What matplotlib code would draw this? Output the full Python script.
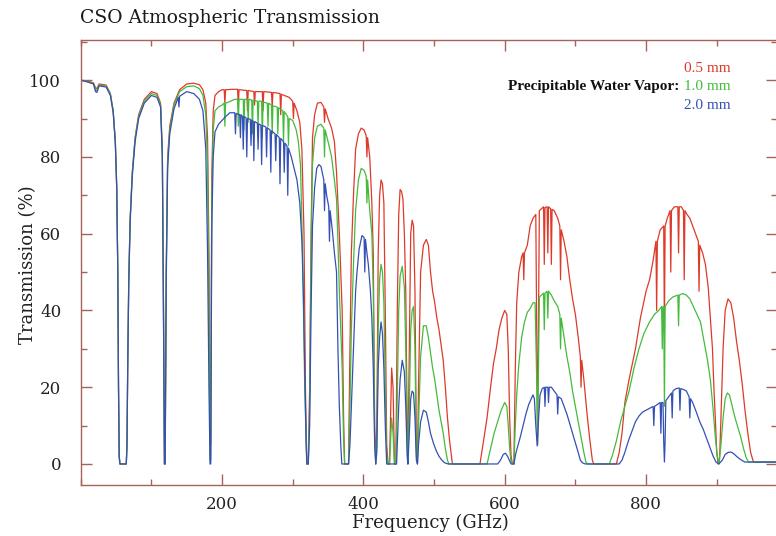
import matplotlib
matplotlib.use('Agg')
import matplotlib.pyplot as plt
from matplotlib.ticker import MultipleLocator, FixedLocator

# frequency in GHz, transmission in %
FREQ_05 = [
    0, 8, 18, 21, 23, 26, 36, 42, 46, 49, 51, 52.5, 53.5, 54.5, 55.5,
    64.5, 65.5, 66.5, 68, 70, 73, 77, 82, 90, 100, 108, 113, 115.5, 117, 118.5, 119.5,
    121, 123, 126, 132, 140, 150, 160, 168, 173, 177, 179.5, 181.5, 183, 184, 185.5, 187.5, 190, 195, 200,
    203, 204, 205, 215, 222, 223, 224, 235, 236, 237, 245, 246, 247, 257, 258, 259,
    270, 271, 272, 282, 283, 284, 295, 300, 301, 302, 306, 310, 313, 316, 318, 320, 322,
    324, 326, 328, 331, 335, 340, 344, 345, 346, 350, 355, 359, 362, 364, 366, 368, 370, 372, 373.5, 379,
    381, 383, 386, 389, 393, 397, 401, 404, 405, 406, 409, 412, 414, 416, 417.5,
    419, 421, 423, 425, 427, 429, 431, 433, 435, 437, 440, 442, 444, 446,
    448, 450, 452, 454, 456, 458, 460, 462, 463, 465, 467, 469, 471, 473, 475, 476.5,
    478, 481, 485, 489, 492, 495, 498, 501, 504, 507, 510, 513, 516, 519, 522, 526,
    565, 570, 575, 580, 584, 588, 592, 596, 600, 603, 605, 607, 609, 611, 613,
    615, 617, 620, 624, 626, 627, 628, 632, 636, 640, 644, 645.5, 646.5, 647.5, 649, 652,
    655, 656, 657, 660, 661, 662, 665, 666, 667, 670, 675, 678, 679, 680,
    684, 688, 692, 696, 700, 704, 707, 708, 709, 712, 716, 720, 724, 726, 758,
    762, 766, 770, 776, 785, 792, 800, 805, 810, 814, 815, 816, 820, 825, 826, 827,
    830, 834, 835, 836, 840, 845, 846, 847, 850, 853, 854, 855, 858, 862,
    866, 870, 874, 875, 876, 880, 884, 888, 891, 894, 896, 898, 900, 902,
    904, 906, 909, 912, 916, 920, 924, 928, 932, 936, 940, 944, 948, 952, 985,
]
TRANS_05 = [
    100, 99.8, 99.3, 98, 97.8, 99, 98.7, 96.5, 92, 84, 72, 50, 20, 2, 0,
    0, 5, 25, 48, 64, 76, 85, 91, 95, 97, 96.5, 94, 82, 45, 0, 0,
    50, 80, 88, 94, 97.5, 99, 99.2, 98.8, 97.5, 94, 85, 55, 5, 5, 75, 92, 96, 97, 97.5,
    97.5, 94, 97.5, 97.6, 97.6, 93, 97.5, 97.3, 92, 97.3, 97, 93.5, 97, 97, 92, 97,
    96.8, 93, 96.8, 96.5, 91, 96.3, 95.5, 94.5, 90, 94, 92, 89, 82, 60, 20, 0, 0,
    20, 60, 85, 91, 94, 94.2, 93, 89, 92.5, 90, 87.5, 84, 76, 68, 60, 50, 40, 12, 0, 0,
    30, 55, 70, 82, 86, 87.5, 87, 85.5, 80, 85, 80, 68, 55, 10, 0,
    10, 55, 70, 74, 73, 68, 40, 5, 0, 0, 25, 20, 0, 0,
    40, 65, 71.5, 71, 69, 60, 45, 10, 0, 30, 60, 63.5, 62, 45, 5, 0,
    20, 50, 57, 58.5, 57, 50, 45, 42, 38, 35, 31, 27, 20, 12, 6, 0,
    0, 6, 12, 20, 26, 30, 35, 38, 40, 39, 30, 12, 2, 0, 0,
    25, 42, 50, 54, 55, 48, 55, 57, 62, 64, 65, 30, 5, 30, 66, 66.5,
    67, 52, 66.8, 67, 55, 67, 66.5, 52, 66.3, 66, 64, 62, 48, 61,
    58, 54, 48, 43, 39, 33, 28, 20, 27, 22, 14, 7, 1, 0, 0,
    3, 8, 16, 22, 30, 38, 45, 48, 53, 58, 40, 58, 61, 62, 35, 62,
    64, 66, 50, 66, 67, 67, 55, 67, 67, 66, 48, 66, 65, 64,
    62, 60, 58, 45, 57, 55, 52, 46, 38, 30, 20, 12, 3, 0,
    1, 12, 30, 40, 43, 42, 38, 32, 27, 21, 14, 8, 3, 0.5, 0.5,
]

FREQ_10 = [
    0, 8, 18, 21, 23, 26, 36, 42, 46, 49, 51, 52.5, 53.5, 54.5, 55.5,
    64.5, 65.5, 66.5, 68, 70, 73, 77, 82, 90, 100, 108, 113, 115.5, 117, 118.5, 119.5,
    121, 123, 126, 132, 140, 150, 160, 168, 173, 177, 179.5, 181.5, 183, 184, 185.5, 187.5, 190, 195, 200,
    203, 204, 205, 212, 218, 222, 223, 224, 230, 231, 232, 236, 237, 238,
    242, 243, 244, 250, 251, 252, 256, 257, 258, 264, 265, 266,
    270, 271, 272, 278, 279, 280, 286, 287, 288, 293, 294, 295,
    300, 305, 308, 311, 314, 317, 320, 322,
    324, 326, 328, 331, 335, 340, 344, 345, 346, 350, 355, 359, 362, 364, 366, 368, 370, 372, 373.5, 379,
    381, 383, 386, 389, 393, 397, 401, 404, 405, 406, 409, 412, 414, 416, 417.5,
    419, 421, 423, 425, 427, 429, 431, 433, 435, 437, 440, 442, 444, 446,
    448, 450, 452, 455, 458, 460, 462, 463, 465, 467, 469, 471, 473, 475, 476.5,
    478, 481, 485, 489, 492, 495, 498, 501, 504, 507, 510, 513, 516, 519, 521, 575,
    580, 585, 590, 595, 600, 603, 605, 607, 609, 613,
    615, 617, 620, 624, 628, 632, 636, 640, 643, 645.5, 646.5, 647.5, 649, 652,
    655, 656, 657, 660, 661, 662, 666, 670, 675, 678, 679, 680,
    684, 688, 692, 696, 700, 704, 708, 712, 715, 717, 748,
    752, 758, 764, 770, 776, 783, 790, 797, 805, 812, 818,
    822, 823, 824, 825, 826, 827, 832, 838, 845, 846, 847, 852,
    857, 862, 867, 872, 877, 882, 887, 891, 895, 898, 901, 903,
    906, 909, 912, 915, 918, 922, 926, 930, 934, 938, 942, 945, 985,
]
TRANS_10 = [
    100, 99.7, 99.2, 97.5, 97.3, 98.7, 98.5, 96.3, 91.8, 84, 72, 50, 20, 2, 0,
    0, 5, 25, 48, 64, 76, 85, 90.5, 94.5, 96.5, 96, 93.5, 81, 44, 0, 0,
    49, 79, 87, 93.5, 97, 98.3, 98.5, 97.8, 96, 91, 78, 40, 1, 1, 70, 87, 92, 93, 93.5,
    94, 88, 94, 94.5, 95, 95, 88, 95, 95, 87, 95, 95, 89, 95,
    94.8, 86, 94.8, 94.5, 88, 94.5, 94.5, 85, 94.3, 94, 88, 94,
    93.5, 86, 93.3, 93, 86, 92.8, 92, 84, 91.8, 90.5, 83, 90,
    89.5, 87, 84, 78, 55, 20, 0, 0,
    15, 55, 78, 85, 88, 88.5, 87.5, 80, 87, 84, 80, 74, 69, 58, 45, 35, 25, 6, 0, 0,
    15, 35, 52, 66, 74, 77, 76.5, 75, 68, 74, 66, 60, 45, 6, 0,
    5, 35, 48, 52, 50, 42, 20, 2, 0, 0, 12, 8, 0, 0,
    18, 40, 49, 51.5, 46, 30, 5, 0, 15, 35, 40, 41, 30, 2, 0,
    10, 28, 36, 36, 33, 29, 25, 22, 18, 14, 11, 8, 4, 1, 0, 0,
    4, 8, 11, 14, 16, 15, 10, 4, 0.5, 0,
    10, 18, 26, 33, 37, 39.5, 40.5, 42, 42, 20, 5, 20, 43.5, 44,
    44.5, 35, 44.5, 45, 38, 45, 44, 42.5, 41, 39, 30, 38,
    33, 28, 24, 19, 15, 11, 7, 3, 0.5, 0, 0,
    2, 6, 11, 15, 19, 25, 30, 34, 37, 39, 40,
    41, 30, 41, 41, 15, 41, 42.5, 43.5, 44, 36, 44, 44.4,
    44, 43, 41, 39, 37, 32, 27, 22, 14, 7, 2, 0,
    5, 12, 17, 18.5, 18, 15, 12, 9.5, 7, 4, 1.5, 0.5, 0.5,
]

FREQ_20 = [
    0, 8, 18, 21, 23, 26, 36, 42, 46, 49, 51, 52.5, 53.5, 54.5, 55.5,
    64.5, 65.5, 66.5, 68, 70, 73, 77, 82, 90, 100, 108, 113, 115.5, 117, 118.5, 119.5,
    121, 123, 126, 132, 138, 139, 140, 150, 160, 168, 173, 177, 179.5, 181.5, 183, 184,
    185.5, 187.5, 190, 195, 200, 205, 211, 218, 219, 220, 225, 226, 227,
    229, 230, 231, 234, 235, 236, 240, 241, 242, 244, 245, 246,
    250, 251, 252, 255, 256, 257, 262, 263, 264, 268, 269, 270,
    275, 276, 277, 281, 282, 283, 287, 288, 289, 292, 293, 294,
    298, 302, 306, 310, 313, 315, 317, 319, 320, 322,
    324, 326, 328, 331, 334, 337, 340, 344, 345, 346, 348, 351, 352, 353,
    356, 359, 362, 364, 366, 368, 369.5, 379,
    381, 383, 386, 389, 391, 394, 398, 401, 402, 403, 405, 407, 410, 412, 414, 416, 417.5,
    419, 421, 423, 425, 427, 429, 431, 433, 447,
    448, 450, 452, 455, 458, 460, 462, 463, 465, 467, 469, 471, 473, 475, 476.5,
    478, 481, 485, 489, 492, 495, 499, 503, 507, 511, 515, 520, 590,
    594, 598, 601, 604, 607, 609, 613, 616, 619, 622, 626, 630, 634,
    640, 642, 644, 646, 648, 650, 653, 656, 657, 658, 661, 662, 663,
    666, 670, 674, 675, 676, 680, 684, 688, 692, 696, 700, 704, 707, 710, 714, 762,
    766, 770, 775, 780, 785, 790, 795, 800, 805, 810, 811, 812, 816,
    820, 821, 822, 824, 825, 826, 827, 828, 832, 836, 837, 838, 842,
    847, 848, 849, 852, 857, 861, 862, 863, 866, 871, 876, 881, 886, 891, 895, 899, 903,
    908, 912, 916, 920, 924, 928, 932, 936, 940, 985,
]
TRANS_20 = [
    100, 99.6, 99, 97, 96.8, 98.5, 98.2, 96, 91.5, 83.5, 71.5, 50, 20, 2, 0,
    0, 5, 25, 47, 63, 75, 84, 90, 94, 96, 95.5, 93, 80, 43, 0, 0,
    47, 77, 86, 92.5, 95.5, 93, 95.8, 97, 96.5, 95, 92, 82, 55, 20, 0, 0,
    62, 80, 86.5, 88.5, 89.5, 90.5, 91.5, 91.5, 86, 91.3, 91, 85, 91,
    90.5, 82, 90.5, 90.2, 80, 90, 89.8, 83, 89.6, 89.3, 79, 89.2,
    88.8, 82, 88.6, 88.3, 78, 88.2, 87.8, 80, 87.6, 87, 76, 86.8,
    86, 79, 85.8, 85, 73, 84.8, 84, 76, 83.6, 82.8, 70, 82.3,
    80, 77, 74, 68, 58, 45, 25, 5, 0, 0,
    10, 40, 62, 72, 77, 78, 77.5, 74, 66, 73, 70, 67, 58, 66,
    61, 55, 50, 30, 15, 5, 0, 0,
    5, 15, 30, 45, 50, 56, 59.5, 59, 50, 58.5, 55, 52, 45, 38, 25, 5, 0,
    3, 25, 33, 37, 34, 25, 10, 0, 0,
    5, 15, 22, 27, 24, 15, 2, 0, 8, 17, 19, 18.5, 12, 1, 0,
    5, 11, 14, 13.5, 11, 8, 5.5, 3.5, 2, 1, 0.3, 0, 0,
    1, 2.5, 2.8, 2, 0.8, 0, 0, 3, 5, 7, 10, 13, 15.5,
    18, 17, 10, 4.7, 12, 18, 19.6, 20, 15, 20, 20, 16, 20,
    20, 19, 18, 13, 17.5, 17, 15, 13, 10.5, 8, 5.5, 3, 1, 0.3, 0, 0,
    1, 3, 6, 8.5, 11, 12.5, 13.5, 14, 14.5, 15, 10, 15, 15.5,
    16, 8, 16, 16, 6, 0.5, 6, 16.5, 17.5, 18.5, 12, 19, 19.6,
    19.8, 14, 19.6, 19.5, 19, 17.5, 12, 17, 16, 13.6, 11, 9, 6.5, 4, 2, 0.5, 0,
    1, 2.5, 3, 3.1, 2.7, 2, 1.4, 0.9, 0.5, 0.5,
]

PWV_LABELS = ['0.5 mm', '1.0 mm', '2.0 mm']
PWV_COLORS = ['#dd3a2a', '#44bb3c', '#3550b5']
XTICKS = [200, 400, 600, 800]
FRAME = '#a5625a'
SERIF = 'DejaVu Serif'

fig = plt.figure(figsize=(7.76, 5.36), dpi=100)
ax = fig.add_axes([0.104, 0.095, 0.897, 0.83])

for f, t, c in zip([FREQ_05, FREQ_10, FREQ_20], [TRANS_05, TRANS_10, TRANS_20], PWV_COLORS):
    ax.plot(f, t, color=c, lw=0.9)

ax.set_xlim(0, 985)
ax.set_ylim(-5.5, 110.4)
ax.xaxis.set_major_locator(FixedLocator(XTICKS))
ax.xaxis.set_minor_locator(MultipleLocator(100))
ax.yaxis.set_major_locator(MultipleLocator(20))
ax.yaxis.set_minor_locator(MultipleLocator(10))
ax.tick_params(which='both', direction='in', top=True, right=True, color=FRAME, width=1)
ax.tick_params(which='major', length=8)
ax.tick_params(which='minor', length=4.5)
ax.tick_params(axis='x', which='major', pad=8, labelsize=12)
ax.tick_params(axis='y', which='major', pad=14, labelsize=12)
for lab in ax.get_xticklabels() + ax.get_yticklabels():
    lab.set_family(SERIF)
    lab.set_color('#222222')
for sp in ax.spines.values():
    sp.set_color(FRAME)
    sp.set_linewidth(1.0)

fig.text(0.103, 0.966, 'CSO Atmospheric Transmission', family=SERIF, fontsize=13.5,
         ha='left', va='center', color='#1a1a1a')
fig.text(0.554, 0.024, 'Frequency (GHz)', family=SERIF, fontsize=13,
         ha='center', va='center', color='#222222')
fig.text(0.036, 0.506, 'Transmission (%)', family=SERIF, fontsize=13, rotation=90,
         ha='center', va='center', color='#222222')

fig.text(0.875, 0.838, 'Precipitable Water Vapor:', family='Liberation Serif',
         fontweight='bold', fontsize=11, ha='right', va='center', color='#111111')
for lbl, c, yy in zip(PWV_LABELS, PWV_COLORS, [0.873, 0.838, 0.804]):
    fig.text(0.881, yy, lbl, family='Liberation Serif', fontsize=11,
             ha='left', va='center', color=c)

fig.savefig('out.png', dpi=100)
